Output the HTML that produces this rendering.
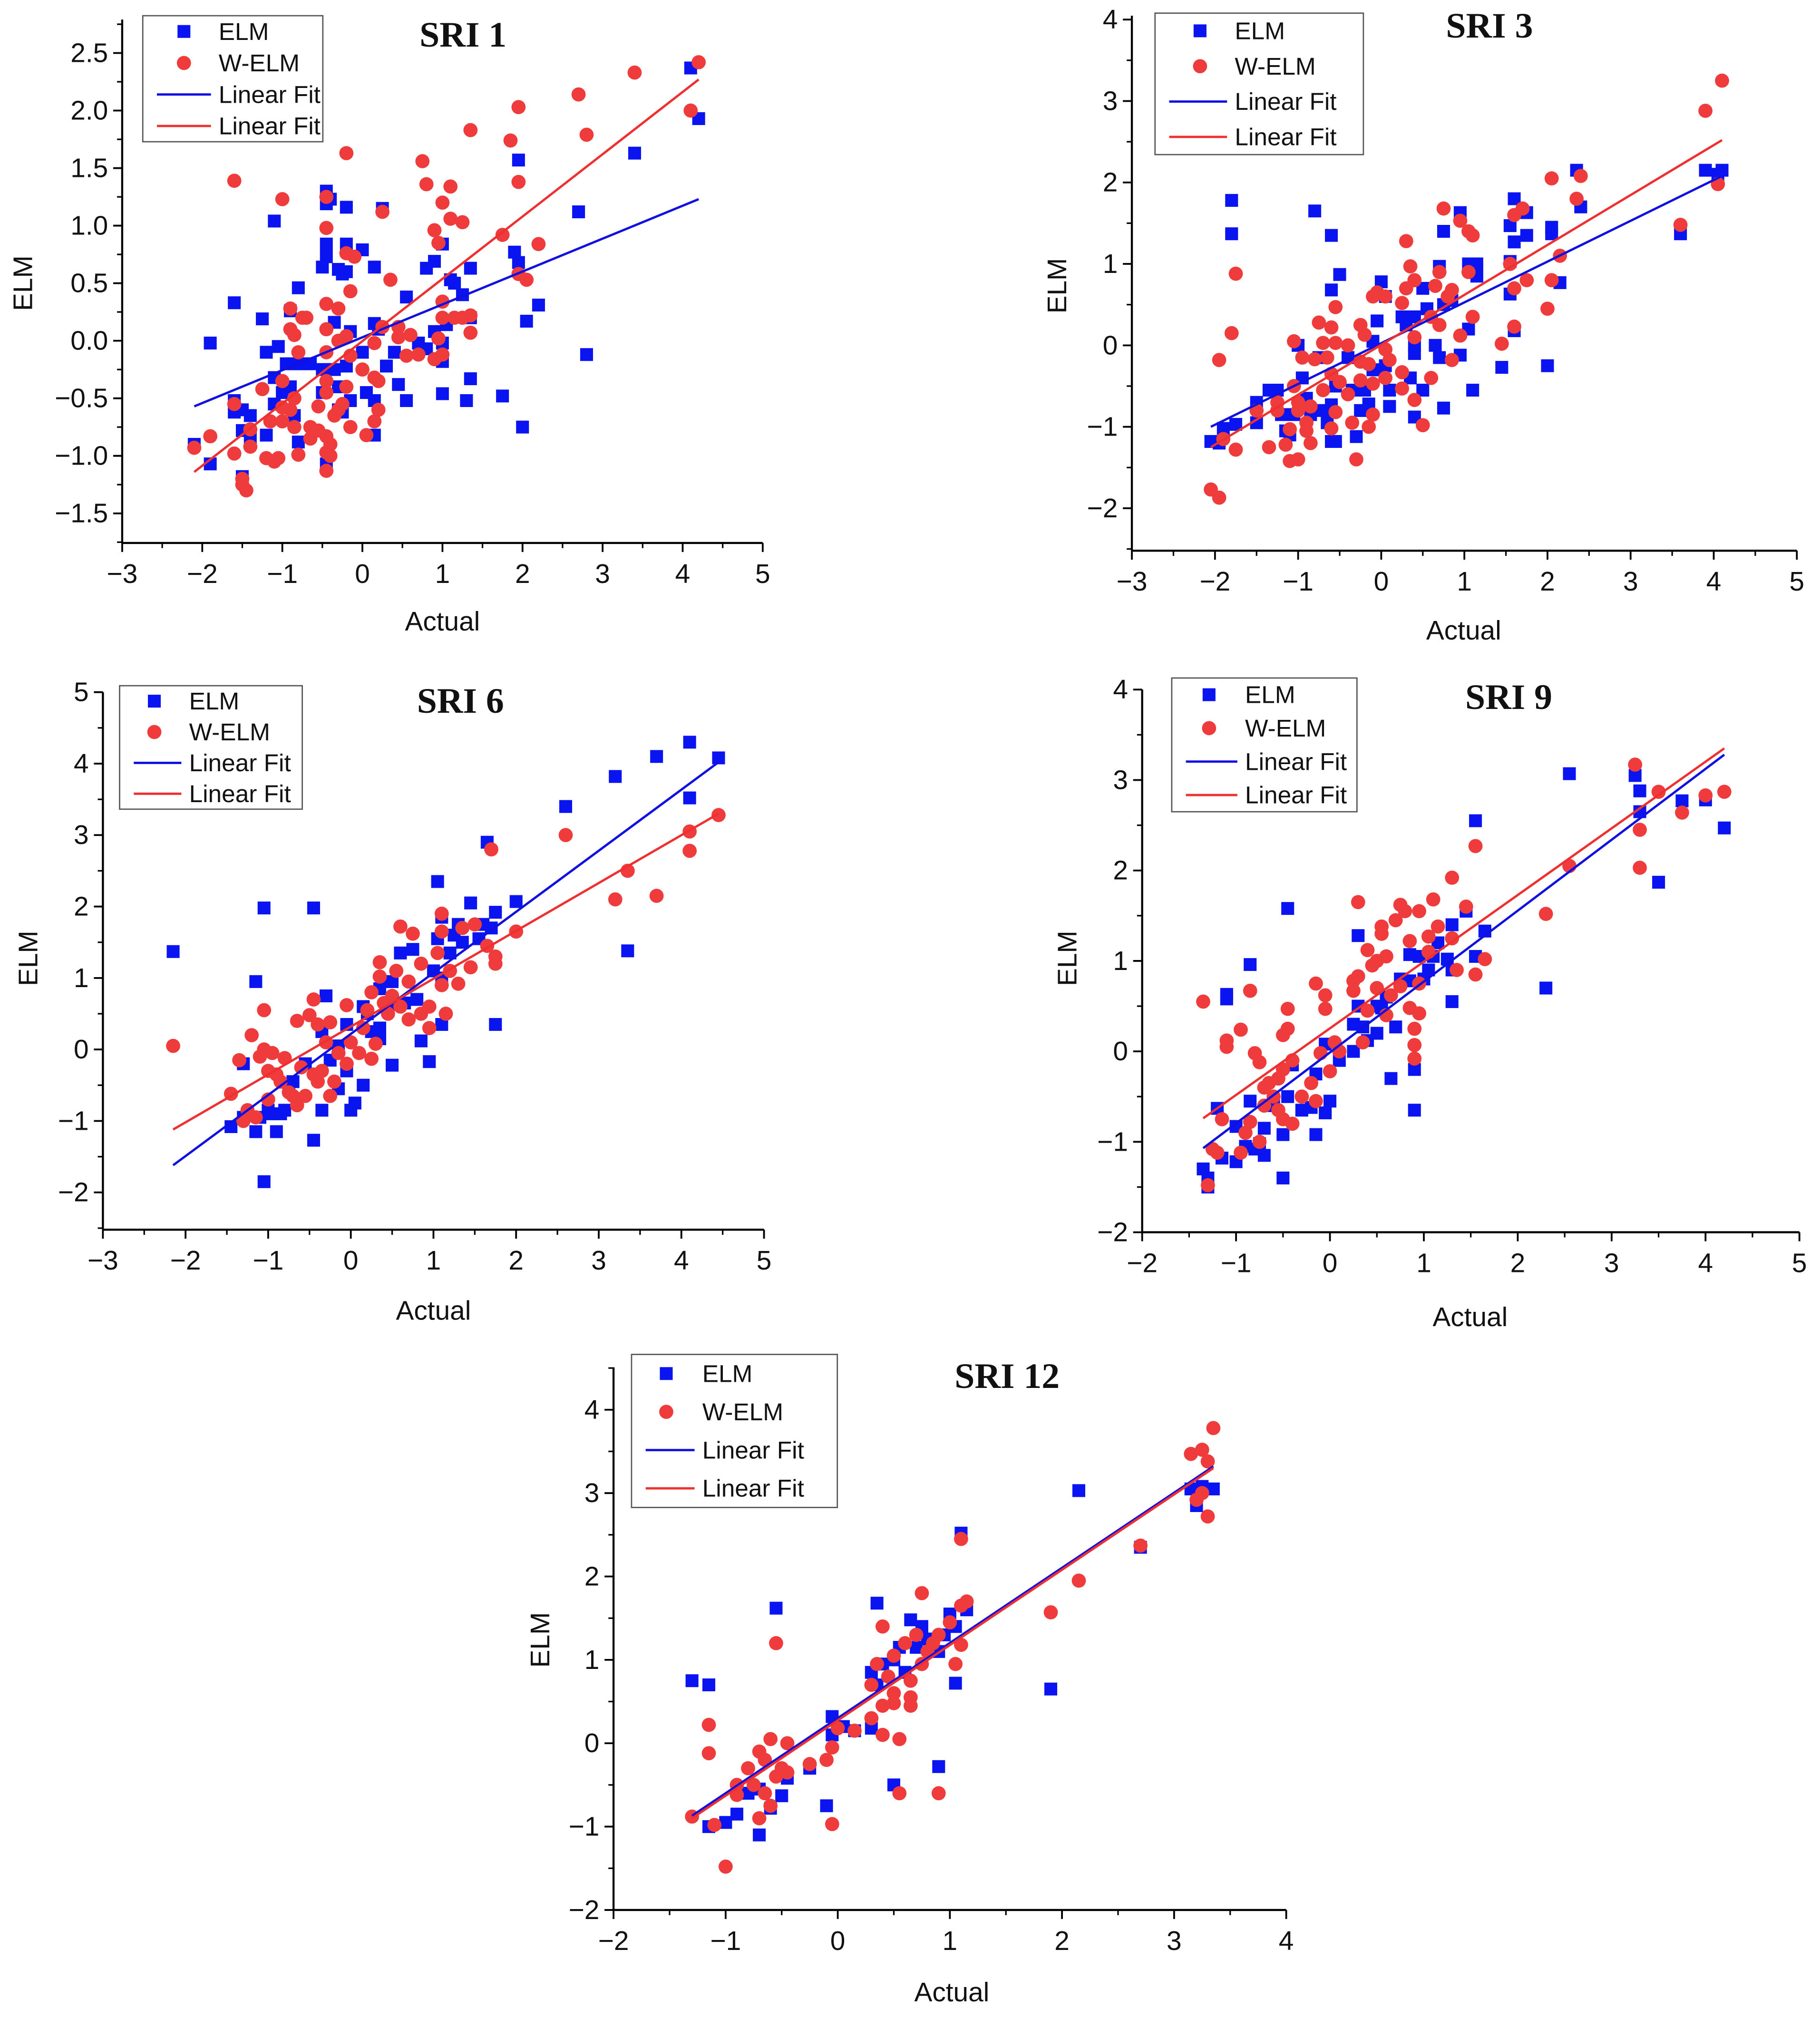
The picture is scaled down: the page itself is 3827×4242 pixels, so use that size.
<!DOCTYPE html>
<html><head><meta charset="utf-8"><style>
html,body{margin:0;padding:0;background:#fff;}
svg{display:block;}
text{font-family:"Liberation Sans",Arial,sans-serif;fill:#111;}
</style></head>
<body>
<svg id="fig" width="3827" height="4242" viewBox="0 0 1415 1568" xmlns="http://www.w3.org/2000/svg">
<rect x="0" y="0" width="1415" height="1568" fill="#fff"/>
</svg>
<script>
// ---- SRI 1 ----
const sri1ElmX=[4.1,4.2,3.4,2.7,2.8,1.95,1.9,1.95,2.2,2.05,2.0,1.75,1.35,1.1,1.15,1.25,1.05,1.35,1.35,1.3,1.0,1.0,0.9,0.8,0.55,0.9,1.0,0.7,0.8,1.0,0.55,0.45,0.3,0.4,0.15,0.0,0.25,-0.2,-0.45,-0.45,-0.4,-0.45,-0.45,-0.5,-0.3,-0.25,-0.2,-0.2,-1.1,-1.6,-1.9,-1.25,-1.2,-1.05,-1.1,-0.95,-0.85,-0.75,-0.65,-0.9,-0.8,-0.35,-0.15,0.0,0.2,0.15,-0.5,-0.35,-0.3,-0.2,-0.15,0.05,0.15,0.15,-0.5,-1.0,-0.9,-1.1,-1.6,-1.6,-1.5,-1.4,-1.5,-1.4,-1.2,-0.8,-0.85,-2.1,-1.9,-1.5,-0.45,-0.3,-0.25];
const sri1ElmY=[2.37,1.93,1.63,1.12,-0.12,1.57,0.77,0.68,0.31,0.17,-0.75,-0.48,0.63,0.53,0.5,0.4,0.14,0.2,-0.33,-0.52,-0.46,0.84,0.69,0.63,0.38,0.08,-0.02,-0.02,-0.07,-0.18,-0.52,-0.38,-0.22,-0.1,0.64,0.79,1.15,1.16,1.3,1.19,1.23,0.84,0.73,0.64,0.62,0.58,0.6,0.84,1.04,0.33,-0.02,0.19,-0.1,-0.05,-0.32,-0.2,-0.2,-0.2,-0.2,0.26,0.46,0.16,0.08,-0.1,0.1,0.15,-0.45,-0.25,-0.4,-0.22,-0.52,-0.45,-0.52,-0.82,-0.25,-0.45,-0.4,-0.55,-0.52,-0.62,-0.6,-0.65,-0.78,-0.85,-0.82,-0.88,-0.65,-0.9,-1.07,-1.18,-1.07,-0.6,-0.62];
const sri1WelmX=[4.2,4.1,3.4,2.7,2.8,1.95,1.35,1.85,1.95,0.75,0.8,1.1,1.0,-0.2,-1.6,-1.0,-0.45,0.25,1.1,1.25,0.9,0.95,1.75,2.2,-0.45,-0.2,-0.1,0.35,-0.15,1.95,2.05,1.0,-0.45,-0.3,-0.9,-0.75,-0.7,1.0,1.15,1.25,1.35,-0.9,-0.85,0.45,0.45,0.6,0.95,1.35,0.25,-0.45,-0.2,-0.3,0.15,-0.8,-0.45,-0.15,0.55,0.7,0.9,1.0,0.0,-1.0,-0.45,0.15,0.2,-0.2,-1.25,-0.85,-0.45,-0.55,-1.0,-0.9,-1.6,-0.3,-0.25,-0.35,0.2,-1.15,-0.85,-1.0,-0.65,-0.55,0.15,-1.4,-0.15,-0.45,0.05,-0.65,-1.9,-2.1,-1.6,-1.4,-0.4,-1.2,-1.1,-1.05,-0.8,-0.45,-0.4,-0.45,-1.5,-1.5,-1.45];
const sri1WelmY=[2.42,2.0,2.33,2.14,1.79,2.03,1.83,1.74,1.38,1.56,1.36,1.34,1.2,1.63,1.39,1.23,1.25,1.12,1.06,1.03,0.96,0.85,0.92,0.84,0.98,0.76,0.73,0.53,0.43,0.58,0.53,0.34,0.32,0.28,0.28,0.2,0.2,0.2,0.2,0.2,0.22,0.1,0.05,0.12,0.03,0.05,0.02,0.07,0.12,0.1,0.04,0.0,-0.02,-0.1,-0.1,-0.13,-0.13,-0.12,-0.16,-0.12,-0.25,-0.35,-0.35,-0.32,-0.35,-0.4,-0.42,-0.5,-0.45,-0.57,-0.58,-0.6,-0.55,-0.6,-0.55,-0.65,-0.6,-0.7,-0.75,-0.7,-0.75,-0.78,-0.7,-0.77,-0.75,-0.83,-0.82,-0.85,-0.83,-0.93,-0.98,-0.92,-0.9,-1.02,-1.05,-1.02,-0.99,-0.97,-1.0,-1.13,-1.2,-1.25,-1.3];
const sri1FitX=[-2.1,4.2];
const sri1ElmFitY=[-0.57,1.23];
const sri1WelmFitY=[-1.14,2.27];
const sri1XTicks=[-3,-2,-1,0,1,2,3,4,5];
const sri1YTicks=[-1.5,-1.0,-0.5,0.0,0.5,1.0,1.5,2.0,2.5];

// ---- SRI 3 ----
const sri3ElmX=[-2.05,-1.95,-1.9,-1.75,-1.8,-1.8,-1.5,-1.5,-1.35,-1.25,-1.2,-1.15,-1.1,-1.05,-1.0,-0.95,-0.9,-0.85,-0.75,-0.7,-0.65,-0.6,-0.55,-0.6,-0.55,-0.6,-0.8,-0.6,-0.5,-0.4,-0.35,-0.25,-0.3,-0.2,-0.15,-0.1,-0.05,-0.1,-0.05,0.0,0.05,0.1,0.1,0.05,0.25,0.3,0.35,0.4,0.4,0.4,0.4,0.5,0.5,0.55,0.65,0.7,0.7,0.75,0.75,0.75,0.85,0.95,0.95,1.05,1.05,1.15,1.15,1.1,1.45,1.55,1.6,1.6,1.55,1.55,1.6,1.75,1.75,2.0,2.05,2.05,2.15,2.35,2.4,3.6,3.9,4.1,4.05];
const sri3ElmY=[-1.18,-1.2,-1.02,-0.97,1.78,1.37,-0.95,-0.7,-0.55,-0.55,-0.85,-1.05,-1.1,-0.85,0.0,-0.4,-0.65,-0.85,-0.15,-0.8,-0.95,-1.18,-1.18,-0.73,-0.5,1.35,1.65,0.68,0.87,-0.15,-0.55,-0.8,-1.12,-0.55,-0.72,-0.3,-0.3,0.05,0.3,0.78,0.6,-0.55,-0.75,-0.25,0.35,0.25,-0.4,-0.1,0.0,0.35,-0.88,-0.55,0.7,0.45,0.0,-0.15,0.97,0.5,1.4,-0.77,0.55,1.63,-0.12,1.0,0.2,0.85,1.0,-0.55,-0.27,1.47,1.27,1.8,1.03,0.63,0.18,1.63,1.35,-0.25,1.45,1.37,0.77,2.15,1.7,1.37,2.15,2.15,2.1];
const sri3WelmX=[-2.05,-1.95,-1.95,-1.9,-1.75,-1.8,-1.75,-1.5,-1.35,-1.25,-1.25,-1.15,-1.1,-1.1,-1.05,-1.05,-1.0,-1.0,-1.0,-0.95,-0.9,-0.9,-0.85,-0.85,-0.8,-0.75,-0.7,-0.7,-0.65,-0.6,-0.6,-0.55,-0.55,-0.55,-0.6,-0.5,-0.4,-0.4,-0.35,-0.3,-0.25,-0.25,-0.25,-0.2,-0.15,-0.15,-0.1,-0.1,-0.1,-0.05,0.05,0.05,0.05,0.1,0.25,0.25,0.25,0.3,0.3,0.35,0.4,0.4,0.4,0.5,0.6,0.6,0.65,0.7,0.7,0.75,0.8,0.85,0.85,0.95,0.95,1.05,1.05,1.1,1.1,1.45,1.55,1.6,1.6,1.6,1.7,1.75,2.0,2.05,2.05,2.15,2.35,2.4,3.6,3.9,4.1,4.05];
const sri3WelmY=[-1.77,-1.87,-0.18,-1.15,0.88,0.15,-1.28,-0.8,-1.25,-0.8,-0.7,-1.22,-1.42,-1.03,0.05,-0.5,-1.4,-0.7,-0.8,-0.15,-0.95,-1.05,-1.2,-0.75,-0.17,0.28,0.03,-0.55,-0.15,0.22,-0.35,0.47,0.03,-0.82,-1.02,-0.45,0.0,-0.6,-0.95,-1.4,0.25,-0.2,-0.43,0.13,-0.23,-1.0,0.6,-0.47,-0.85,0.65,0.6,-0.05,-0.4,-0.18,0.52,-0.33,-0.53,0.7,1.28,0.97,0.8,-0.67,0.1,-0.98,0.35,-0.4,0.73,0.25,0.9,1.68,0.6,0.68,-0.18,1.53,0.12,1.4,0.9,1.35,0.35,0.02,1.0,0.7,0.23,1.6,1.68,0.8,0.45,2.05,0.8,1.1,1.8,2.08,1.48,2.88,3.25,1.98];
const sri3FitX=[-2.05,4.1];
const sri3ElmFitY=[-1.0,2.08];
const sri3WelmFitY=[-1.25,2.52];
const sri3XTicks=[-3,-2,-1,0,1,2,3,4,5];
const sri3YTicks=[-2,-1,0,1,2,3,4];

// ---- SRI 6 ----
const sri6ElmX=[-2.15,-1.45,-1.3,-1.3,-1.15,-1.15,-1.05,-1.05,-1.1,-1.0,-0.95,-0.9,-0.85,-0.8,-0.75,-0.7,-0.55,-0.45,-0.45,-0.35,-0.3,-0.35,-0.25,-0.15,-0.15,-0.05,-0.05,0.0,0.05,0.15,0.15,0.2,0.25,0.35,0.35,0.35,0.45,0.45,0.5,0.5,0.6,0.65,0.75,0.8,0.85,0.95,1.0,1.05,1.05,1.1,1.1,1.1,1.2,1.25,1.3,1.35,1.45,1.55,1.6,1.65,1.7,1.75,1.75,2.0,2.6,3.2,3.35,3.7,4.1,4.1,4.45];
const sri6ElmY=[1.37,-1.08,-0.95,-0.2,-1.15,0.95,-1.85,1.98,-0.95,-0.85,-0.9,-1.15,-0.9,-0.85,-0.55,-0.45,-0.2,1.98,-1.27,-0.85,0.75,0.25,-0.15,-0.55,0.05,0.35,-0.3,-0.85,-0.75,-0.5,0.6,0.5,0.25,0.3,0.15,0.85,0.55,0.95,0.95,-0.22,1.35,0.65,1.4,0.7,0.12,-0.17,1.1,1.55,2.35,1.85,0.35,1.0,1.35,1.6,1.75,1.5,2.05,1.55,1.75,2.9,1.7,1.92,0.35,2.07,3.4,3.82,1.38,4.1,3.52,4.3,4.08];
const sri6WelmX=[-2.15,-1.45,-1.35,-1.3,-1.25,-1.2,-1.15,-1.1,-1.05,-1.05,-1.0,-1.0,-0.95,-0.9,-0.85,-0.8,-0.75,-0.7,-0.65,-0.65,-0.6,-0.55,-0.5,-0.45,-0.45,-0.4,-0.4,-0.35,-0.3,-0.25,-0.25,-0.2,-0.15,-0.05,-0.05,0.0,0.1,0.15,0.2,0.25,0.25,0.3,0.35,0.35,0.4,0.45,0.5,0.55,0.6,0.6,0.7,0.7,0.75,0.85,0.85,0.95,0.95,1.05,1.1,1.1,1.1,1.15,1.2,1.3,1.35,1.45,1.5,1.65,1.7,1.75,1.75,2.0,2.6,3.2,3.35,3.7,4.1,4.1,4.45];
const sri6WelmY=[0.05,-0.62,-0.15,-1.0,-0.85,0.2,-0.95,-0.1,0.0,0.55,-0.3,-0.7,-0.05,-0.35,-0.45,-0.12,-0.6,-0.65,-0.78,0.4,-0.25,-0.65,0.48,0.7,-0.35,0.35,-0.45,-0.3,0.1,0.38,-0.65,-0.45,-0.05,0.62,-0.2,0.1,-0.05,0.3,0.55,0.8,-0.13,0.08,1.02,1.22,0.65,0.5,0.75,1.1,1.72,0.6,0.95,0.42,1.62,1.2,0.5,0.6,0.3,1.35,1.9,1.65,0.9,0.5,1.1,0.92,1.7,1.15,1.75,1.45,2.8,1.3,1.2,1.65,3.0,2.1,2.5,2.15,3.05,2.78,3.28];
const sri6FitX=[-2.15,4.45];
const sri6ElmFitY=[-1.62,4.02];
const sri6WelmFitY=[-1.12,3.3];
const sri6XTicks=[-3,-2,-1,0,1,2,3,4,5];
const sri6YTicks=[-2,-1,0,1,2,3,4,5];

// ---- SRI 9 ----
const sri9ElmX=[-1.35,-1.3,-1.3,-1.2,-1.15,-1.1,-1.1,-1.0,-1.0,-0.9,-0.85,-0.85,-0.8,-0.75,-0.7,-0.7,-0.6,-0.5,-0.5,-0.45,-0.45,-0.4,-0.3,-0.2,-0.15,-0.15,-0.05,-0.05,0.0,0.1,0.25,0.25,0.3,0.3,0.35,0.4,0.5,0.5,0.55,0.6,0.65,0.7,0.75,0.85,0.85,0.9,0.9,0.95,1.0,1.05,1.1,1.15,1.25,1.3,1.3,1.3,1.45,1.55,1.55,1.65,2.3,2.55,3.25,3.3,3.3,3.5,3.75,4.0,4.2];
const sri9ElmY=[-1.3,-1.4,-1.5,-0.63,-1.18,0.63,0.58,-0.83,-1.22,-1.05,0.96,-0.55,-1.08,-1.02,-1.15,-0.85,-0.6,-0.92,-1.4,-0.5,1.58,-0.15,-0.65,-0.62,-0.92,-0.25,-0.68,0.08,-0.55,-0.1,0.0,0.3,0.5,1.28,0.27,0.12,0.2,0.5,0.48,0.6,-0.3,0.27,0.8,0.78,1.07,-0.65,-0.2,1.05,0.8,0.9,1.05,1.2,1.02,1.4,0.55,0.9,1.55,2.55,1.05,1.33,0.7,3.07,3.05,2.88,2.65,1.87,2.77,2.78,2.47];
const sri9WelmX=[-1.35,-1.3,-1.25,-1.2,-1.15,-1.1,-1.1,-0.95,-0.95,-0.9,-0.85,-0.85,-0.8,-0.75,-0.75,-0.7,-0.7,-0.65,-0.6,-0.55,-0.55,-0.5,-0.5,-0.5,-0.45,-0.45,-0.4,-0.4,-0.3,-0.2,-0.15,-0.15,-0.1,-0.05,-0.05,0.0,0.05,0.1,0.25,0.25,0.3,0.3,0.35,0.4,0.4,0.45,0.5,0.5,0.55,0.55,0.6,0.6,0.65,0.7,0.75,0.75,0.8,0.85,0.85,0.9,0.9,0.9,0.95,0.95,0.95,1.05,1.05,1.1,1.15,1.3,1.35,1.3,1.45,1.55,1.55,1.65,2.3,2.55,3.25,3.3,3.3,3.5,3.75,4.0,4.2];
const sri9WelmY=[0.55,-1.48,-1.08,-1.12,-0.75,0.05,0.12,0.24,-1.12,-0.9,0.67,-0.78,-0.02,-0.12,-1.0,-0.4,-0.6,-0.35,-0.5,-0.3,-0.65,-0.2,-0.75,0.18,0.47,0.25,-0.1,-0.8,-0.5,-0.35,0.75,-0.55,-0.02,0.47,0.62,-0.22,0.1,0.0,0.67,0.78,1.65,0.83,0.1,0.45,1.12,0.95,0.7,1.0,1.3,1.38,0.4,1.05,0.62,1.45,1.62,0.72,1.55,1.22,0.48,0.25,0.07,-0.08,1.55,0.75,0.42,1.27,1.1,1.68,1.38,1.25,0.9,1.92,1.6,2.27,0.85,1.02,1.52,2.05,3.17,2.45,2.03,2.87,2.64,2.83,2.87];
const sri9FitX=[-1.35,4.2];
const sri9ElmFitY=[-1.07,3.28];
const sri9WelmFitY=[-0.74,3.35];
const sri9XTicks=[-2,-1,0,1,2,3,4,5];
const sri9YTicks=[-2,-1,0,1,2,3,4];

// ---- SRI 12 ----
const sri12ElmX=[-1.3,-1.15,-1.15,-1.0,-0.9,-0.8,-0.7,-0.7,-0.6,-0.55,-0.5,-0.45,-0.25,-0.1,-0.05,-0.05,0.05,0.15,0.3,0.3,0.35,0.35,0.4,0.5,0.5,0.55,0.6,0.65,0.7,0.75,0.8,0.85,0.9,0.95,1.0,1.05,1.1,1.05,1.15,0.9,1.9,2.15,2.7,3.15,3.2,3.25,3.35];
const sri12ElmY=[0.75,0.7,-1.0,-0.95,-0.85,-0.6,-1.1,-0.55,-0.78,1.62,-0.63,-0.42,-0.3,-0.75,0.32,0.1,0.2,0.15,0.85,0.18,1.68,0.7,0.95,1.0,-0.5,1.15,0.85,1.48,1.15,1.4,1.25,1.2,1.1,1.3,1.55,1.4,2.52,0.72,1.6,-0.28,0.65,3.03,2.35,3.05,2.85,3.08,3.05];
const sri12WelmX=[-1.3,-1.15,-1.15,-1.1,-1.0,-0.9,-0.9,-0.8,-0.75,-0.7,-0.7,-0.65,-0.65,-0.6,-0.6,-0.55,-0.55,-0.5,-0.45,-0.45,-0.25,-0.1,-0.05,-0.05,0.0,0.15,0.3,0.3,0.35,0.4,0.4,0.4,0.45,0.5,0.5,0.5,0.55,0.55,0.6,0.65,0.65,0.65,0.7,0.75,0.75,0.8,0.85,0.9,0.9,1.0,1.05,1.1,1.1,1.15,1.1,1.9,2.15,2.7,3.15,3.2,3.25,3.25,3.3,3.3,3.35];
const sri12WelmY=[-0.88,0.22,-0.12,-0.98,-1.48,-0.5,-0.62,-0.3,-0.5,-0.1,-0.9,-0.2,-0.6,0.05,-0.75,-0.4,1.2,-0.3,0.0,-0.35,-0.25,-0.2,-0.05,-0.97,0.18,0.15,0.7,0.3,0.95,1.4,0.45,0.1,0.8,0.6,0.48,1.05,0.05,-0.6,1.2,0.55,0.45,0.75,1.3,1.8,0.95,1.1,1.2,1.3,-0.6,1.45,0.95,1.65,1.18,1.7,2.45,1.57,1.95,2.37,3.47,2.92,3.52,3.0,3.38,2.72,3.78];
const sri12FitX=[-1.3,3.35];
const sri12ElmFitY=[-0.87,3.32];
const sri12WelmFitY=[-0.9,3.3];
const sri12XTicks=[-2,-1,0,1,2,3,4];
const sri12YTicks=[-2,-1,0,1,2,3,4];

const svg=document.getElementById('fig');
const NS='http://www.w3.org/2000/svg';
function mk(tag,attrs,parent){const e=document.createElementNS(NS,tag);for(const k in attrs)e.setAttribute(k,attrs[k]);parent.appendChild(e);return e;}

const panels=[
 {id:'sri-1',title:'SRI 1',ex:sri1ElmX,ey:sri1ElmY,wx:sri1WelmX,wy:sri1WelmY,fx:sri1FitX,efy:sri1ElmFitY,wfy:sri1WelmFitY,xt:sri1XTicks,yt:sri1YTicks,
  xd:[-3,5],xp:[95,593],yd:[-1.5,2.5],yp:[399,41],yTop:15,yBot:422,dec:1,minorY:0.25,
  titleX:360,titleY:36,actX:344,actY:490,elmX:25,elmY:220,leg:[111,12,140,98],legTx:170,legMk:143},
 {id:'sri-3',title:'SRI 3',ex:sri3ElmX,ey:sri3ElmY,wx:sri3WelmX,wy:sri3WelmY,fx:sri3FitX,efy:sri3ElmFitY,wfy:sri3WelmFitY,xt:sri3XTicks,yt:sri3YTicks,
  xd:[-3,5],xp:[880,1397],yd:[-2,4],yp:[395,15],yTop:12,yBot:428,dec:0,minorY:0.5,
  titleX:1158,titleY:29,actX:1138,actY:497,elmX:829,elmY:222,leg:[898,10,162,110],legTx:960,legMk:933},
 {id:'sri-6',title:'SRI 6',ex:sri6ElmX,ey:sri6ElmY,wx:sri6WelmX,wy:sri6WelmY,fx:sri6FitX,efy:sri6ElmFitY,wfy:sri6WelmFitY,xt:sri6XTicks,yt:sri6YTicks,
  xd:[-3,5],xp:[80,594],yd:[-2,5],yp:[927,538],yTop:538,yBot:956,dec:0,minorY:0.5,
  titleX:358,titleY:554,actX:337,actY:1026,elmX:29,elmY:745,leg:[93,533,142,96],legTx:147,legMk:120},
 {id:'sri-9',title:'SRI 9',ex:sri9ElmX,ey:sri9ElmY,wx:sri9WelmX,wy:sri9WelmY,fx:sri9FitX,efy:sri9ElmFitY,wfy:sri9WelmFitY,xt:sri9XTicks,yt:sri9YTicks,
  xd:[-2,5],xp:[888,1399],yd:[-2,4],yp:[958,536],yTop:536,yBot:958,dec:0,minorY:0.5,
  titleX:1173,titleY:551,actX:1143,actY:1031,elmX:837,elmY:745,leg:[911,527,144,104],legTx:968,legMk:940},
 {id:'sri-12',title:'SRI 12',ex:sri12ElmX,ey:sri12ElmY,wx:sri12WelmX,wy:sri12WelmY,fx:sri12FitX,efy:sri12ElmFitY,wfy:sri12WelmFitY,xt:sri12XTicks,yt:sri12YTicks,
  xd:[-2,4],xp:[477,1000],yd:[-2,4],yp:[1485,1096],yTop:1063,yBot:1485,dec:0,minorY:0.5,
  titleX:783,titleY:1079,actX:740,actY:1556,elmX:427,elmY:1275,leg:[491,1053,160,119],legTx:546,legMk:518}
];

function fmt(v,dec){const s=v.toFixed(dec);return v<0?'\u2212'+s.slice(1):s;}

panels.forEach(p=>{
  const g=mk('g',{},svg);
  
  
  const sx=v=>p.xp[0]+(v-p.xd[0])/(p.xd[1]-p.xd[0])*(p.xp[1]-p.xp[0]);
  const sy=v=>p.yp[0]+(v-p.yd[0])/(p.yd[1]-p.yd[0])*(p.yp[1]-p.yp[0]);
  const ax=p.xp[0], ay=p.yBot;
  const yAxis=mk('line',{x1:ax,y1:p.yTop,x2:ax,y2:ay,stroke:'#000','stroke-width':1.6},g);
  
  
  const xAxis=mk('line',{x1:ax,y1:ay,x2:p.xp[1],y2:ay,stroke:'#000','stroke-width':1.6},g);
  
  
  p.xt.forEach((v,i)=>{
    const x=sx(v);
    mk('line',{x1:x,y1:ay,x2:x,y2:ay+7,stroke:'#000','stroke-width':1.4},g);
    if(i<p.xt.length-1){const xm=sx(v+0.5);mk('line',{x1:xm,y1:ay,x2:xm,y2:ay+4,stroke:'#000','stroke-width':1.2},g);}
    const t=mk('text',{x:x,y:ay+31,'font-size':21,'text-anchor':'middle'},g);
    t.textContent=fmt(v,0);
    
    
  });
  const yStep=p.yt[1]-p.yt[0];
  p.yt.forEach(v=>{
    const y=sy(v);
    mk('line',{x1:ax,y1:y,x2:ax-7,y2:y,stroke:'#000','stroke-width':1.4},g);
    const t=mk('text',{x:ax-11,y:y+7,'font-size':21,'text-anchor':'end'},g);
    t.textContent=fmt(v,p.dec);
    
    
  });
  for(let v=p.yd[0]-2*p.minorY;v<=p.yd[1]+2*p.minorY+1e-9;v+=p.minorY){
    const y=sy(v);
    if(y<p.yTop-0.5||y>ay+0.5)continue;
    if(Math.abs((v-p.yt[0])/yStep-Math.round((v-p.yt[0])/yStep))<1e-6)continue;
    mk('line',{x1:ax,y1:y,x2:ax-4,y2:y,stroke:'#000','stroke-width':1.2},g);
  }
  const xt=mk('text',{x:p.actX,y:p.actY,'font-size':21,'text-anchor':'middle'},g);
  xt.textContent='Actual';
  
  
  const yt=mk('text',{x:p.elmX,y:p.elmY,'font-size':21,'text-anchor':'middle',transform:'rotate(-90 '+p.elmX+' '+p.elmY+')'},g);
  yt.textContent='ELM';
  
  
  const tt=mk('text',{x:p.titleX,y:p.titleY,'font-size':28,'font-weight':'bold','text-anchor':'middle',style:'font-family:"Liberation Serif",serif'},g);
  tt.textContent=p.title;
  
  
  p.ex.forEach((x,i)=>{
    const r=mk('rect',{x:sx(x)-5,y:sy(p.ey[i])-5,width:10,height:10,fill:'#0a14f0'},g);
    
    
  });
  p.wx.forEach((x,i)=>{
    const c=mk('circle',{cx:sx(x),cy:sy(p.wy[i]),r:5.5,fill:'#ef3b3b'},g);
    
    
  });
  const lb=mk('line',{x1:sx(p.fx[0]),y1:sy(p.efy[0]),x2:sx(p.fx[1]),y2:sy(p.efy[1]),stroke:'#1010e0','stroke-width':1.8},g);
  
  
  const lr=mk('line',{x1:sx(p.fx[0]),y1:sy(p.wfy[0]),x2:sx(p.fx[1]),y2:sy(p.wfy[1]),stroke:'#ef3030','stroke-width':1.8},g);
  
  
  const lg=mk('g',{},g);
  
  
  const [lx,ly,lw,lh]=p.leg;
  mk('rect',{x:lx,y:ly,width:lw,height:lh,fill:'#fff',stroke:'#555','stroke-width':1},lg);
  const rowH=lh/4;
  const labels=['ELM','W-ELM','Linear Fit','Linear Fit'];
  labels.forEach((lab,i)=>{
    const cy=ly+rowH*(i+0.5);
    if(i===0) mk('rect',{x:p.legMk-5,y:cy-5,width:10,height:10,fill:'#0a14f0'},lg);
    if(i===1) mk('circle',{cx:p.legMk,cy:cy,r:5.5,fill:'#ef3b3b'},lg);
    if(i>=2) mk('line',{x1:lx+11,y1:cy,x2:p.legTx-6,y2:cy,stroke:i===2?'#1010e0':'#ef3030','stroke-width':1.8},lg);
    const t=mk('text',{x:p.legTx,y:cy+6.5,'font-size':19},lg);
    t.textContent=lab;
    
    
  });
});
</script>
</body></html>
